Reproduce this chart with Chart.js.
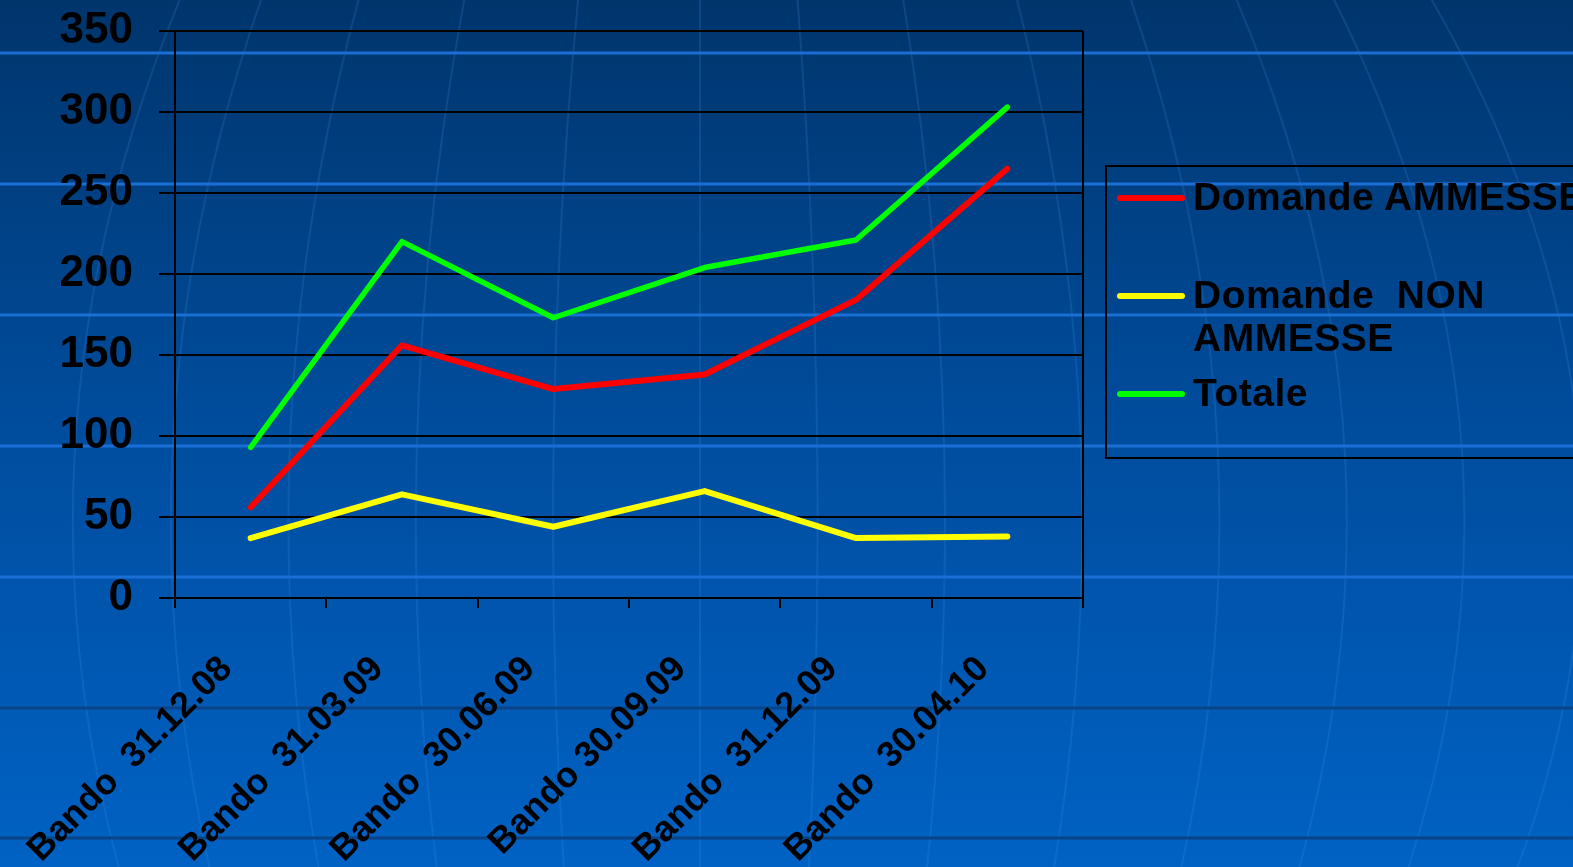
<!DOCTYPE html>
<html>
<head>
<meta charset="utf-8">
<script src="https://cdn.jsdelivr.net/npm/chart.js@4.4.1/dist/chart.umd.min.js"></script>
<style>
  body { margin: 0; overflow: hidden; background: #004a98; font-family: "Liberation Sans", Arial, sans-serif; }
  #wrap { position: relative; width: 1573px; height: 867px; }
  #legend {
    position: absolute; left: 1105px; top: 165px; width: 500px; height: 294px;
    border: 2px solid #000; box-sizing: border-box;
  }
  .item { position: absolute; left: 0; }
  .swatch { position: absolute; left: 10px; width: 68px; height: 6px; border-radius: 3px; }
  .text { position: absolute; left: 86px; font-weight: bold; font-size: 39px; line-height: 43px; color: #000; white-space: pre; letter-spacing: 0.5px; }
</style>
</head>
<body>
<div id="wrap">
  <canvas id="chart"></canvas>
  <div id="legend"></div>
</div>
<script>
const categories = ['Bando  31.12.08', 'Bando  31.03.09', 'Bando  30.06.09', 'Bando 30.09.09', 'Bando  31.12.09', 'Bando  30.04.10'];
const ammesse = [56, 156, 129, 138, 184, 265];
const nonAmmesse = [37, 64, 44, 66, 37, 38];
const totale = [93, 220, 173, 204, 221, 303];
const seriesNames = ['Domande AMMESSE', 'Domande  NON\nAMMESSE', 'Totale'];
const seriesColors = ['#ff0000', '#ffff00', '#00ff00'];
const yTicks = [0, 50, 100, 150, 200, 250, 300, 350];

// slide background: gradient, horizontal rules, faint globe meridians
const slideBg = {
  id: 'slideBg',
  beforeDraw(chart) {
    const { ctx, width, height } = chart;
    ctx.save();
    let g = ctx.createLinearGradient(0, 0, 0, height);
    g.addColorStop(0, '#00356c');
    g.addColorStop(0.5, '#004d9e');
    g.addColorStop(1, '#0062c4');
    ctx.fillStyle = g;
    ctx.fillRect(0, 0, width, height);

    ctx.strokeStyle = 'rgba(70,150,240,0.18)';
    ctx.lineWidth = 2;
    let cx = 700;
    [-640, -540, -420, -290, -150, 0, 120, 250, 390, 530, 660, 780, 900].forEach(d => {
      ctx.beginPath();
      ctx.moveTo(cx + d * 0.8, -20);
      ctx.quadraticCurveTo(cx + d * 1.1, 430, cx + d * 0.9, height + 20);
      ctx.stroke();
    });

    ctx.lineWidth = 3;
    ctx.strokeStyle = '#1a6fd6';
    [53, 184, 315, 446, 577].forEach(y => {
      ctx.beginPath(); ctx.moveTo(0, y); ctx.lineTo(width, y); ctx.stroke();
    });
    ctx.strokeStyle = '#0a4488';
    [708, 838].forEach(y => {
      ctx.beginPath(); ctx.moveTo(0, y); ctx.lineTo(width, y); ctx.stroke();
    });
    ctx.restore();
  }
};

const chart = new Chart(document.getElementById('chart'), {
  type: 'line',
  data: {
    labels: categories,
    datasets: [
      { label: seriesNames[0], data: ammesse, borderColor: seriesColors[0], borderWidth: 6 },
      { label: seriesNames[1], data: nonAmmesse, borderColor: seriesColors[1], borderWidth: 6 },
      { label: seriesNames[2], data: totale, borderColor: seriesColors[2], borderWidth: 5.5 }
    ]
  },
  options: {
    responsive: true,
    maintainAspectRatio: false,
    animation: false,
    elements: { point: { radius: 0 }, line: { tension: 0, borderCapStyle: 'round', borderJoinStyle: 'round' } },
    layout: { padding: { top: 31, right: 490, left: 0, bottom: 0 } },
    plugins: { legend: { display: false }, tooltip: { enabled: false } },
    scales: {
      x: {
        offset: true,
        grid: {
          offset: true,
          color: ctx => (ctx.type === 'tick' && ctx.index < categories.length) ? 'rgba(0,0,0,0)' : '#000',
          tickColor: '#000',
          lineWidth: 2,
          tickLength: 10
        },
        border: { display: true, color: '#000', width: 2 },
        ticks: {
          color: '#000',
          font: { family: '"Liberation Sans", Arial', size: 36, weight: 'bold' },
          maxRotation: 45,
          minRotation: 45,
          autoSkip: false,
          labelOffset: -24,
          padding: 40
        },
        afterFit: s => { s.height = 269; s.paddingLeft = 0; s.paddingRight = 0; }
      },
      y: {
        min: 0,
        max: 350,
        afterBuildTicks: s => { s.ticks = yTicks.map(v => ({ value: v })); },
        grid: { color: '#000', lineWidth: 2, tickLength: 16 },
        border: { display: true, color: '#000', width: 2 },
        ticks: {
          color: '#000',
          font: { family: '"Liberation Sans", Arial', size: 44, weight: 'bold' },
          padding: 26
        },
        afterFit: s => { s.width = 175; s.paddingTop = 0; s.paddingBottom = 0; }
      }
    }
  },
  plugins: [slideBg]
});

// legend box built from the chart datasets
const legend = document.getElementById('legend');
const rowTops = [8, 106, 204];
chart.data.datasets.forEach((ds, i) => {
  const item = document.createElement('div');
  item.className = 'item';
  item.style.top = rowTops[i] + 'px';
  const sw = document.createElement('div');
  sw.className = 'swatch';
  sw.style.background = ds.borderColor;
  sw.style.top = '20px';
  const tx = document.createElement('div');
  tx.className = 'text';
  tx.textContent = ds.label;
  item.appendChild(sw);
  item.appendChild(tx);
  legend.appendChild(item);
});
</script>
</body>
</html>
